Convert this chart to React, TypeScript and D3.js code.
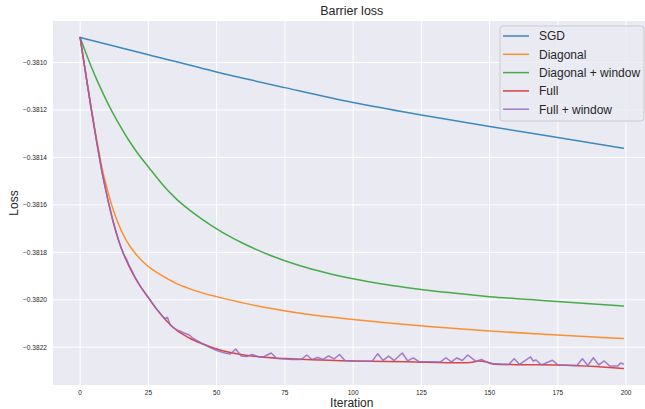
import React from 'react';
import * as d3 from 'd3';

const seriesNames = ['SGD', 'Diagonal', 'Diagonal + window', 'Full', 'Full + window'];
const seriesColors = ['#1f77b4', '#ff7f0e', '#2ca02c', '#d62728', '#9467bd'];

const sgdIter = [0, 25, 50, 75, 100, 125, 150, 175, 199];
const sgdLoss = [-0.3808949, -0.3809672, -0.3810399, -0.3811059, -0.381169, -0.3812216, -0.3812699, -0.3813162, -0.3813616];

const diagIter = [0, 2, 4, 6, 8, 10, 12, 14, 16, 18, 20, 23, 26, 30, 35, 40, 45, 50, 60, 70, 80, 90, 100, 115, 130, 150, 175, 199];
const diagLoss = [-0.380895, -0.381045, -0.3811879, -0.3813225, -0.3814444, -0.3815369, -0.3816168, -0.3816798, -0.3817303, -0.3817702, -0.3818018, -0.3818396, -0.381869, -0.3818985, -0.38193, -0.3819531, -0.381972, -0.3819868, -0.3820141, -0.3820372, -0.3820561, -0.3820708, -0.3820835, -0.3821003, -0.382115, -0.3821318, -0.3821486, -0.3821633];

const diagWinIter = [0, 2, 4, 6, 8, 10, 12, 15, 18, 21, 25, 30, 35, 40, 45, 50, 60, 70, 80, 90, 100, 110, 120, 135, 150, 165, 180, 199];
const diagWinLoss = [-0.380895, -0.3809567, -0.3810156, -0.3810702, -0.3811207, -0.381169, -0.3812132, -0.3812741, -0.3813309, -0.3813813, -0.3814402, -0.3815117, -0.3815726, -0.381621, -0.381663, -0.3817009, -0.3817639, -0.3818144, -0.3818543, -0.3818858, -0.3819111, -0.3819321, -0.3819489, -0.3819699, -0.3819868, -0.3819994, -0.382012, -0.3820267];

const fullIter = [0, 2, 4, 6, 8, 10, 12, 14, 16, 18, 20, 22, 25, 28, 31, 35, 40, 45, 50, 55, 60, 66, 75, 85, 100, 120, 140, 143, 146, 149, 152, 160, 178, 190, 199];
const fullLoss = [-0.380895, -0.381045, -0.3811921, -0.3813309, -0.3814612, -0.3815705, -0.3816672, -0.3817471, -0.3818102, -0.3818606, -0.3819048, -0.3819426, -0.381991, -0.3820393, -0.3820813, -0.3821255, -0.3821612, -0.3821865, -0.3822075, -0.3822222, -0.3822327, -0.3822411, -0.3822474, -0.3822529, -0.3822579, -0.3822613, -0.382265, -0.3822642, -0.3822579, -0.3822621, -0.3822718, -0.3822735, -0.3822756, -0.3822823, -0.3822895];

const fullWinIter = [0, 2, 4, 6, 8, 10, 12, 14, 15, 16, 17, 18, 20, 22, 25, 28, 30, 31, 32, 33, 34, 36, 38, 40, 41, 43, 45, 48, 50, 53, 55, 57, 59, 61, 63, 65, 67, 70, 72, 75, 78, 81, 83, 85, 87, 89, 91, 93, 95, 97, 100, 107, 109, 111, 113, 115, 118, 120, 122, 124, 132, 134, 136, 138, 140, 142, 145, 147, 150, 157, 159, 161, 165, 166, 167, 169, 173, 175, 182, 184, 186, 188, 190, 192, 194, 197, 198, 199];
const fullWinLoss = [-0.380895, -0.381045, -0.3811921, -0.3813309, -0.3814612, -0.3815705, -0.3816672, -0.3817471, -0.3817807, -0.3818102, -0.3818291, -0.3818564, -0.3819027, -0.3819426, -0.381991, -0.3820393, -0.3820666, -0.3820792, -0.382075, -0.3821066, -0.3821171, -0.3821297, -0.3821402, -0.3821486, -0.3821591, -0.3821738, -0.3821865, -0.3822033, -0.3822138, -0.3822243, -0.3822285, -0.3822075, -0.3822369, -0.382239, -0.3822306, -0.382239, -0.3822411, -0.3822243, -0.3822474, -0.3822495, -0.3822516, -0.3822516, -0.3822327, -0.3822516, -0.3822432, -0.3822516, -0.3822369, -0.3822495, -0.3822306, -0.3822558, -0.3822579, -0.3822588, -0.3822277, -0.3822558, -0.3822378, -0.3822558, -0.3822243, -0.3822579, -0.3822445, -0.38226, -0.3822621, -0.3822445, -0.3822621, -0.3822453, -0.3822558, -0.3822327, -0.38226, -0.3822516, -0.3822684, -0.3822726, -0.3822487, -0.3822726, -0.3822411, -0.3822579, -0.3822537, -0.3822747, -0.382255, -0.3822747, -0.3822768, -0.3822487, -0.3822768, -0.3822445, -0.3822747, -0.3822579, -0.3822789, -0.3822789, -0.3822663, -0.3822705];

const xTicks = [0, 25, 50, 75, 100, 125, 150, 175, 200];
const yTicks = [-0.381, -0.3812, -0.3814, -0.3816, -0.3818, -0.382, -0.3822];

const titleText = 'Barrier loss';
const xLabel = 'Iteration';
const yLabel = 'Loss';

const W = 645;
const H = 409;
const FONT = '"Liberation Sans", Arial, sans-serif';

export default function App() {
  const series = [
    { iter: sgdIter, loss: sgdLoss, smooth: true },
    { iter: diagIter, loss: diagLoss, smooth: true },
    { iter: diagWinIter, loss: diagWinLoss, smooth: true },
    { iter: fullIter, loss: fullLoss, smooth: true },
    { iter: fullWinIter, loss: fullWinLoss, smooth: false },
  ];

  const allIter = series.flatMap((s) => s.iter);
  const allLoss = series.flatMap((s) => s.loss);
  const [xMin, xMax] = d3.extent(allIter) as [number, number];
  const [yMin, yMax] = d3.extent(allLoss) as [number, number];
  const xPad = (xMax - xMin) * 0.05;
  const yPad = (yMax - yMin) * 0.05;

  const left = 53;
  const right = 650.5;
  const top = 21;
  const bottom = 385;

  const x = d3.scaleLinear().domain([xMin - xPad, xMax + xPad]).range([left, right]);
  const y = d3.scaleLinear().domain([yMin - yPad, yMax + yPad]).range([bottom, top]);

  const fmtY = (v: number) => v.toFixed(4).replace('-', '\u2212');

  const legendX = 500;
  const legendY = 26;

  return (
    <div style={{ position: 'absolute', left: 0, top: 0, width: W, height: H, overflow: 'hidden' }}>
      <svg width={W} height={H} style={{ display: 'block', background: '#ffffff' }} fontFamily={FONT}>
        <defs>
          <clipPath id="plotclip">
            <rect x={left} y={top} width={right - left} height={bottom - top} />
          </clipPath>
        </defs>
        <rect x={left} y={top} width={right - left} height={bottom - top} fill="#EAEAF2" />
        {xTicks.map((t) => (
          <line key={'gx' + t} x1={x(t)} x2={x(t)} y1={top} y2={bottom} stroke="#ffffff" strokeWidth={1} />
        ))}
        {yTicks.map((t) => (
          <line key={'gy' + t} x1={left} x2={right} y1={y(t)} y2={y(t)} stroke="#ffffff" strokeWidth={1} />
        ))}
        <g clipPath="url(#plotclip)">
          {series.map((s, i) => {
            const pts = s.iter.map((it, k) => [it, s.loss[k]] as [number, number]);
            const gen = d3
              .line<[number, number]>()
              .x((d) => x(d[0]))
              .y((d) => y(d[1]))
              .curve(s.smooth ? d3.curveMonotoneX : d3.curveLinear);
            return (
              <path
                key={seriesNames[i]}
                d={gen(pts) || ''}
                fill="none"
                stroke={seriesColors[i]}
                strokeWidth={1.5}
                strokeLinejoin="round"
                strokeLinecap="round"
                opacity={0.85}
              />
            );
          })}
        </g>
        {xTicks.map((t) => (
          <text key={'tx' + t} x={x(t)} y={395} fontSize={6.5} fill="#262626" textAnchor="middle">
            {t}
          </text>
        ))}
        {yTicks.map((t) => (
          <text key={'ty' + t} x={47} y={y(t) + 2.3} fontSize={6.6} fill="#262626" textAnchor="end">
            {fmtY(t)}
          </text>
        ))}
        <text x={(left + right) / 2} y={15} fontSize={12.5} fill="#262626" textAnchor="middle">
          {titleText}
        </text>
        <text x={(left + right) / 2} y={406.5} fontSize={12} fill="#262626" textAnchor="middle">
          {xLabel}
        </text>
        <text
          x={0}
          y={0}
          fontSize={12}
          fill="#262626"
          textAnchor="middle"
          transform={`translate(18, ${(top + bottom) / 2}) rotate(-90)`}
        >
          {yLabel}
        </text>
        <g>
          <rect
            x={legendX}
            y={legendY}
            width={144}
            height={95}
            rx={3}
            fill="#EAEAF2"
            fillOpacity={0.8}
            stroke="#cccccc"
            strokeWidth={1}
          />
          {seriesNames.map((n, i) => {
            const cy = legendY + 10 + i * 18.3;
            return (
              <g key={'lg' + n}>
                <line x1={legendX + 3} x2={legendX + 29} y1={cy} y2={cy} stroke={seriesColors[i]} strokeWidth={1.5} opacity={0.85} />
                <text x={legendX + 39} y={cy + 4.3} fontSize={12} fill="#262626">
                  {n}
                </text>
              </g>
            );
          })}
        </g>
      </svg>
    </div>
  );
}
